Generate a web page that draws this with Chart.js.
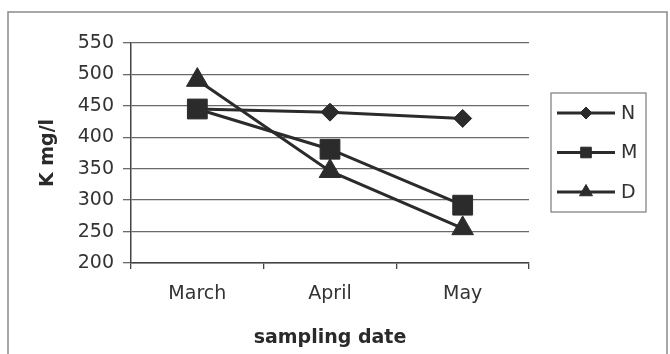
<!DOCTYPE html>
<html><head><meta charset="utf-8">
<script src="https://cdn.jsdelivr.net/npm/chart.js@4.4.1/dist/chart.umd.min.js"></script>
<style>html,body{margin:0;padding:0;background:#fff;}#wrap{width:670px;height:354px;}</style>
</head><body><div id="wrap"><canvas id="c" width="670" height="354"></canvas></div>
<script>
const categories = ['March', 'April', 'May'];
const seriesNames = ['N', 'M', 'D'];
const valuesN = [445, 440, 430];
const valuesM = [445, 381, 292];
const valuesD = [491, 346, 255];
const yTicks = [200, 250, 300, 350, 400, 450, 500, 550];
const xTitle = 'sampling date';
const yTitle = 'K mg/l';

const FONT = 'DejaVu Sans';
const INK = '#2b2b2b';
const styles = [
  {pointStyle: 'rectRot', radius: 9, legendRadius: 6},
  {pointStyle: 'rect', radius: 14, legendRadius: 7.5},
  {pointStyle: 'triangle', radius: 12.5, legendRadius: 7.5}
];
const seriesValues = [valuesN, valuesM, valuesD];
const orders = [2, 1, 0];

const frame = {
  id: 'frame',
  beforeDraw(chart) {
    const ctx = chart.ctx;
    ctx.save();
    ctx.fillStyle = '#fff';
    ctx.fillRect(0, 0, chart.width, chart.height);
    ctx.strokeStyle = '#8a8a8a';
    ctx.lineWidth = 1.5;
    ctx.beginPath();
    ctx.moveTo(8, 360); ctx.lineTo(8, 12); ctx.lineTo(667, 12); ctx.lineTo(667, 360);
    ctx.stroke();
    ctx.restore();
  }
};

const boxLegend = {
  id: 'boxLegend',
  afterDraw(chart) {
    const ctx = chart.ctx;
    const ds = chart.data.datasets;
    ctx.save();
    ctx.strokeStyle = '#7a7a7a';
    ctx.lineWidth = 1.2;
    ctx.strokeRect(551, 93, 95, 119);
    ds.forEach((d, i) => {
      const y = 113 + i * 39.5;
      ctx.strokeStyle = INK;
      ctx.lineWidth = 3;
      ctx.beginPath();
      ctx.moveTo(557, y); ctx.lineTo(615, y);
      ctx.stroke();
      ctx.fillStyle = INK;
      ctx.lineWidth = 1;
      Chart.helpers.drawPoint(ctx, {pointStyle: d.pointStyle, radius: styles[i].legendRadius, rotation: 0, borderWidth: 1}, 586, y);
      ctx.fillStyle = '#333';
      ctx.font = '19px "' + FONT + '"';
      ctx.textBaseline = 'middle';
      ctx.textAlign = 'left';
      ctx.fillText(d.label, 621, y + 1);
    });
    ctx.restore();
  }
};

new Chart(document.getElementById('c'), {
  type: 'line',
  data: {
    labels: categories,
    datasets: seriesNames.map((name, i) => ({
      label: name,
      data: seriesValues[i],
      order: orders[i],
      borderColor: INK,
      backgroundColor: INK,
      borderWidth: 3,
      pointStyle: styles[i].pointStyle,
      pointRadius: styles[i].radius,
      pointBorderWidth: 1,
      pointBackgroundColor: INK,
      pointBorderColor: INK,
      tension: 0
    }))
  },
  options: {
    responsive: false,
    animation: false,
    devicePixelRatio: 1,
    layout: {padding: {left: 32, right: 141, top: 43, bottom: 0}},
    plugins: {legend: {display: false}, tooltip: {enabled: false}},
    scales: {
      x: {
        offset: true,
        grid: {display: true, drawOnChartArea: false, drawTicks: true, tickLength: 6, offset: true, color: '#444', lineWidth: 1.3},
        border: {display: true, color: '#444', width: 1.5},
        ticks: {color: '#333', font: {family: FONT, size: 19}, padding: 14, maxRotation: 0},
        title: {display: true, text: xTitle, color: '#2a2a2a', font: {family: FONT, size: 19, weight: 'bold'}, padding: {top: 4, bottom: 5}},
        afterFit(s) { s.height = 91; }
      },
      y: {
        min: 200, max: 550,
        afterBuildTicks(s) { s.ticks = yTicks.map(v => ({value: v})); },
        grid: {color: '#6a6a6a', lineWidth: 1.3, drawTicks: true, tickLength: 8},
        border: {display: true, color: '#444', width: 1.5},
        ticks: {color: '#333', font: {family: FONT, size: 19}, padding: 9},
        title: {display: true, text: yTitle, color: '#2a2a2a', font: {family: FONT, size: 19, weight: 'bold'}, padding: {top: 5, bottom: 4}},
        afterFit(s) { s.width = 99; }
      }
    }
  },
  plugins: [frame, boxLegend]
});
</script></body></html>
